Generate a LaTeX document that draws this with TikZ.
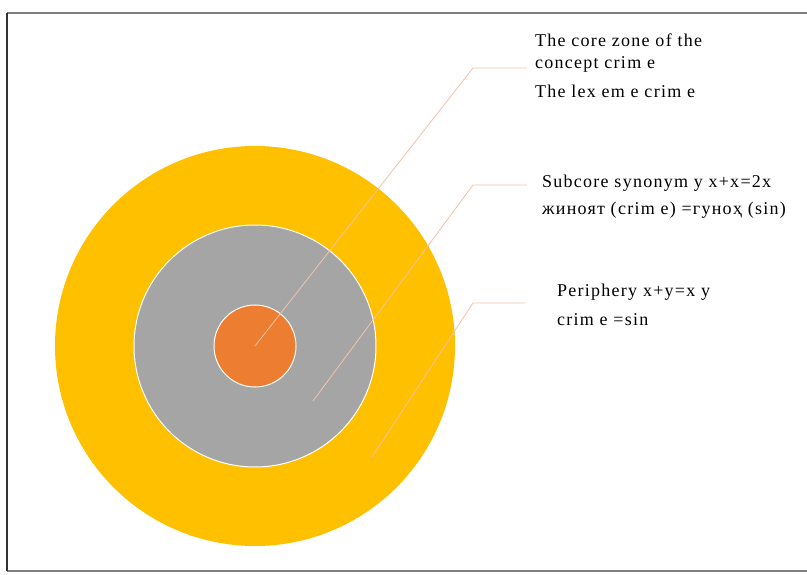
\documentclass[tikz,border=0pt]{standalone}
\usepackage{fontspec}
\setmainfont{Liberation Serif}[LetterSpace=7]
\definecolor{ringY}{HTML}{FFC000}
\definecolor{ringG}{HTML}{A5A5A5}
\definecolor{ringO}{HTML}{ED7D31}
\definecolor{leader}{HTML}{F4C2A8}
\definecolor{frameC}{HTML}{7F7F7F}
\tikzset{
  ring/.style={draw=white, line width=1pt},
  leaderline/.style={draw=leader, line width=0.8pt},
  lbl/.style={anchor=base west, inner sep=0pt, font=\fontsize{18}{22}\selectfont}
}
\begin{document}
\begin{tikzpicture}[x=1pt,y=-1pt]
\useasboundingbox (0,0) rectangle (807,575);
\fill[white] (0,0) rectangle (807,575);
\draw[frameC, line width=1.5pt] (7,13) -- (807,13);
\draw[frameC, line width=1.5pt] (7,571) -- (807,571);
\draw[black!80, line width=1.2pt] (7,13) -- (7,571);
\coordinate (c) at (255,346);
\fill[ringY] (c) circle (200);
\filldraw[ring, fill=ringG] (c) circle (121);
\filldraw[ring, fill=ringO] (c) circle (41);
\coordinate (p1) at (255,346);
\coordinate (b1) at (473,68);
\coordinate (e1) at (527,68);
\coordinate (p2) at (313,401);
\coordinate (b2) at (473,185);
\coordinate (e2) at (527,185);
\coordinate (p3) at (372,457);
\coordinate (b3) at (473,303);
\coordinate (e3) at (525,303);
\draw[leaderline] (p1) -- (b1) -- (e1);
\draw[leaderline] (p2) -- (b2) -- (e2);
\draw[leaderline] (p3) -- (b3) -- (e3);
\node[lbl] (t1a) at (535,47) {The core zone of the};
\node[lbl] (t1b) at (535,69) {concept crim e};
\node[lbl] (t1c) at (535,98) {The lex em e crim e};
\node[lbl] (t2a) at (542,188) {Subcore synonym y x+x=2x};
\node[lbl] (t2b) at (542,215) {жиноят (crim e)  =гуноҳ (sin)};
\node[lbl] (t3a) at (557,297) {Periphery x+y=x y};
\node[lbl] (t3b) at (557,325) {crim e =sin};
\end{tikzpicture}
\end{document}
